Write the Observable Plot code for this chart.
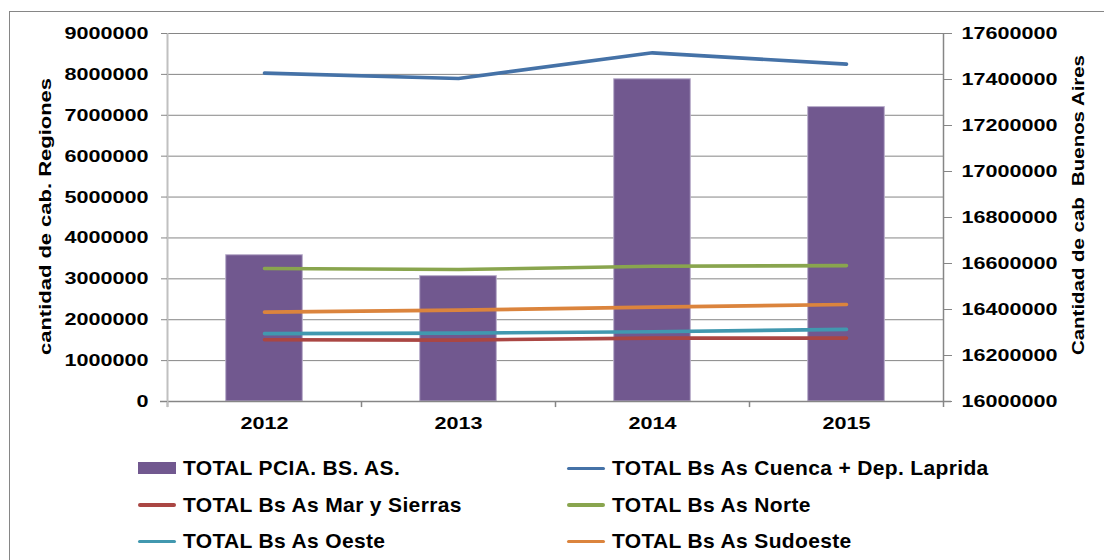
<!DOCTYPE html>
<html>
<head>
<meta charset="utf-8">
<script src="https://cdn.jsdelivr.net/npm/d3@7"></script>
<script src="https://cdn.jsdelivr.net/npm/@observablehq/plot@0.6"></script>
<style>
  body { margin: 0; background: #fff; font-family: "Liberation Sans", Arial, sans-serif; }
  #wrap { position: relative; width: 1104px; height: 560px; overflow: hidden; background: #fff; }
  #frame { position: absolute; left: 9px; top: 11px; width: 1300px; height: 800px; border: 1.5px solid #868686; box-sizing: border-box; }
  #chart { position: absolute; left: 0; top: 0; }
  #legend { position: absolute; left: 138px; top: 450px; display: grid; grid-template-columns: 429px auto; grid-auto-rows: 36.5px; align-items: center; }
  .item { display: flex; align-items: center; font-weight: bold; font-size: 21px; letter-spacing: 0.35px; color: #000; white-space: nowrap; }
  .sw { width: 38px; margin-right: 7px; flex: none; }
</style>
</head>
<body>
<div id="wrap">
  <div id="frame"></div>
  <div id="chart"></div>
  <div id="legend"></div>
</div>
<script>
// ---- data ----
const years = ["2012", "2013", "2014", "2015"];
const totalPcia = [16636000, 16545000, 17401000, 17280000];   // right axis
const cuenca    = [8030000, 7900000, 8527000, 8250000];
const marSierras = [1512000, 1502000, 1551000, 1551000];
const norte     = [3251000, 3227000, 3307000, 3324000];
const oeste     = [1659000, 1673000, 1707000, 1763000];
const sudoeste  = [2186000, 2234000, 2307000, 2373000];

const leftTicks = [0, 1000000, 2000000, 3000000, 4000000, 5000000, 6000000, 7000000, 8000000, 9000000];
const rightTicks = [16000000, 16200000, 16400000, 16600000, 16800000, 17000000, 17200000, 17400000, 17600000];

const barName = "TOTAL PCIA. BS. AS.";
const seriesNames = [
  "TOTAL Bs As Cuenca + Dep. Laprida",
  "TOTAL Bs As Mar y Sierras",
  "TOTAL Bs As Norte",
  "TOTAL Bs As Oeste",
  "TOTAL Bs As Sudoeste"
];
const seriesValues = [cuenca, marSierras, norte, oeste, sudoeste];
const seriesColors = ["#4572A7", "#AA4643", "#89A54E", "#4198AF", "#DB843D"];
const barColor = "#71588F";

const legendOrder = [
  {name: barName, color: barColor, bar: true},
  {name: seriesNames[0], color: seriesColors[0]},
  {name: seriesNames[1], color: seriesColors[1]},
  {name: seriesNames[2], color: seriesColors[2]},
  {name: seriesNames[3], color: seriesColors[3]},
  {name: seriesNames[4], color: seriesColors[4]}
];

// ---- dual axis mapping (right axis -> left scale units) ----
const lMin = leftTicks[0], lMax = leftTicks[leftTicks.length - 1];
const rMin = rightTicks[0], rMax = rightTicks[rightTicks.length - 1];
const k = (lMax - lMin) / (rMax - rMin);
const toLeft = v => lMin + (v - rMin) * k;
const fromLeft = v => rMin + (v - lMin) / k;

const barRows = years.map((y, i) => ({year: y, value: totalPcia[i]}));
const lineRows = seriesNames.flatMap((s, j) => years.map((y, i) => ({series: s, year: y, value: seriesValues[j][i]})));

const W = 1104, H = 445, mL = 167, mR = 161, mT = 33, mB = 44;
const half = (W - mL - mR) / years.length / 2;
const below = -0.0165 * (lMax - lMin);
const grid = "#868686";

const plot = Plot.plot({
  width: W, height: H,
  marginTop: mT, marginBottom: mB, marginLeft: mL, marginRight: mR,
  style: {fontFamily: "'Liberation Sans', Arial, sans-serif", fontSize: "17px", fontWeight: "bold", color: "#000", overflow: "visible", background: "transparent"},
  x: {type: "band", domain: years, padding: 0, axis: null, label: null},
  y: {domain: [lMin, lMax], axis: null, label: null},
  color: {domain: seriesNames, range: seriesColors},
  marks: [
    Plot.ruleY(leftTicks.slice(1), {y: d => d, stroke: grid, strokeWidth: 1}),
    Plot.barY(barRows, {x: "year", y: d => toLeft(d.value), fill: barColor, stroke: "#b9aecb", strokeWidth: 1, insetLeft: 58.7, insetRight: 58.7}),
    Plot.ruleY([lMin], {y: d => d, stroke: grid, strokeWidth: 1.5, insetLeft: -7, insetRight: -8}),
    Plot.ruleX(years, {x: d => d, dx: -half, y1: lMin, y2: below, stroke: grid, strokeWidth: 1.5}),
    Plot.ruleX([years[years.length - 1]], {x: d => d, dx: half, y1: lMax, y2: below, stroke: grid, strokeWidth: 1.5}),
    Plot.ruleX([years[0]], {x: d => d, dx: -half, y1: lMax, y2: below, stroke: "#c0c0c0", strokeWidth: 2}),
    Plot.line(lineRows, {x: "year", y: "value", z: "series", stroke: "series", strokeWidth: 3.6, strokeLinecap: "round", strokeLinejoin: "round", curve: "linear"}),
    Plot.axisY(leftTicks, {anchor: "left", label: null, tickSize: 6, tickPadding: 13, stroke: grid, tickFormat: d => String(d), fill: "#000"}),
    Plot.axisY(rightTicks.map(toLeft), {anchor: "right", label: null, tickSize: 8, tickPadding: 10, stroke: grid, tickFormat: d => String(Math.round(fromLeft(d) / 1000) * 1000), fill: "#000"}),
    Plot.text(years, {x: d => d, text: d => d, frameAnchor: "bottom", dy: 27, fill: "#000"})
  ]
});

document.getElementById("chart").appendChild(plot);
const svg = d3.select(plot);

// axis titles
svg.append("text")
  .attr("transform", "translate(45,216.5) rotate(-90)")
  .attr("text-anchor", "middle").attr("dy", "0.35em")
  .attr("data-len", 277)
  .text("cantidad de cab. Regiones");
svg.append("text")
  .attr("transform", "translate(1078,205) rotate(-90)")
  .attr("text-anchor", "middle").attr("dy", "0.35em")
  .attr("data-len", 300)
  .style("white-space", "pre")
  .text("Cantidad de cab  Buenos Aires");

// widen the chart text like the reference
plot.querySelectorAll("text").forEach(t => {
  const L = t.getComputedTextLength();
  if (!L) return;
  const target = t.getAttribute("data-len") ? +t.getAttribute("data-len") : L * 1.27;
  t.setAttribute("textLength", target);
  t.setAttribute("lengthAdjust", "spacingAndGlyphs");
});

// legend
const leg = d3.select("#legend");
legendOrder.forEach(d => {
  const it = leg.append("div").attr("class", "item");
  if (d.bar) {
    it.append("div").attr("class", "sw").style("height", "12px").style("background", d.color);
  } else {
    it.append("div").attr("class", "sw").style("height", "3.5px").style("background", d.color).style("border-radius", "2px");
  }
  it.append("span").text(d.name);
});
</script>
</body>
</html>
